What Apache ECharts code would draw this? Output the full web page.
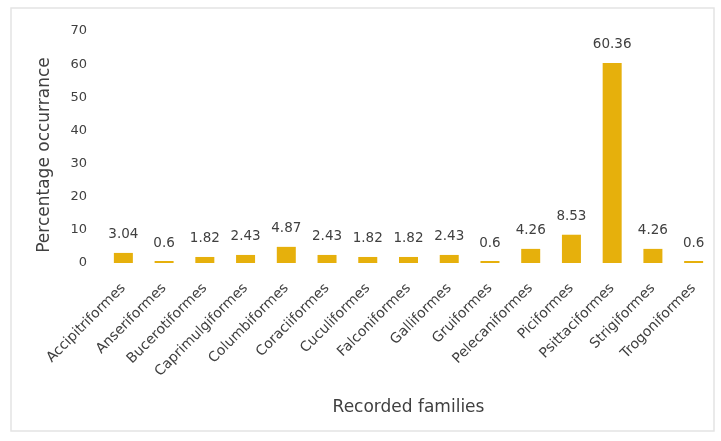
<!DOCTYPE html>
<html><head><meta charset="utf-8">
<script src="https://cdn.jsdelivr.net/npm/echarts@6/dist/echarts.min.js"></script>
<style>html,body{margin:0;padding:0;background:#fff}#c{width:721px;height:441px}</style>
</head><body><div id="c"></div>
<script>
const categories = ["Accipitriformes","Anseriformes","Bucerotiformes","Caprimulgiformes","Columbiformes","Coraciiformes","Cuculiformes","Falconiformes","Galliformes","Gruiformes","Pelecaniformes","Piciformes","Psittaciformes","Strigiformes","Trogoniformes"];
const values = [3.04,0.6,1.82,2.43,4.87,2.43,1.82,1.82,2.43,0.6,4.26,8.53,60.36,4.26,0.6];
const yTicks = [0,10,20,30,40,50,60,70];
const F = 'DejaVu Sans';
const chart = echarts.init(document.getElementById('c'));
chart.setOption({
  animation:false,
  backgroundColor:'#fff',
  graphic:[{type:'rect',shape:{x:11,y:8,width:703,height:423},style:{fill:'none',stroke:'#e4e4e4',lineWidth:1.5}}],
  grid:{left:103,right:7,top:31,bottom:178},
  xAxis:{type:'category',data:categories,
    name:'Recorded families',nameLocation:'middle',nameGap:136,
    nameTextStyle:{fontFamily:F,fontSize:17,color:'#404040'},
    axisLine:{show:false},axisTick:{show:false},
    axisLabel:{interval:0,rotate:45,fontFamily:F,fontSize:14,color:'#404040',margin:23}},
  yAxis:{type:'value',min:yTicks[0],max:yTicks[yTicks.length-1],interval:10,
    name:'Percentage occurrance',nameLocation:'middle',nameGap:50,
    nameTextStyle:{fontFamily:F,fontSize:17,color:'#404040',padding:[0,0,0,-16]},
    axisLine:{show:false},axisTick:{show:false},splitLine:{show:false},
    axisLabel:{fontFamily:F,fontSize:13,color:'#404040',margin:16}},
  series:[{type:'bar',data:values,barWidth:19,
    itemStyle:{color:'#e6b00c'},
    label:{show:true,position:'top',distance:11,fontFamily:F,fontSize:13.5,color:'#404040'}}]
});
</script></body></html>
